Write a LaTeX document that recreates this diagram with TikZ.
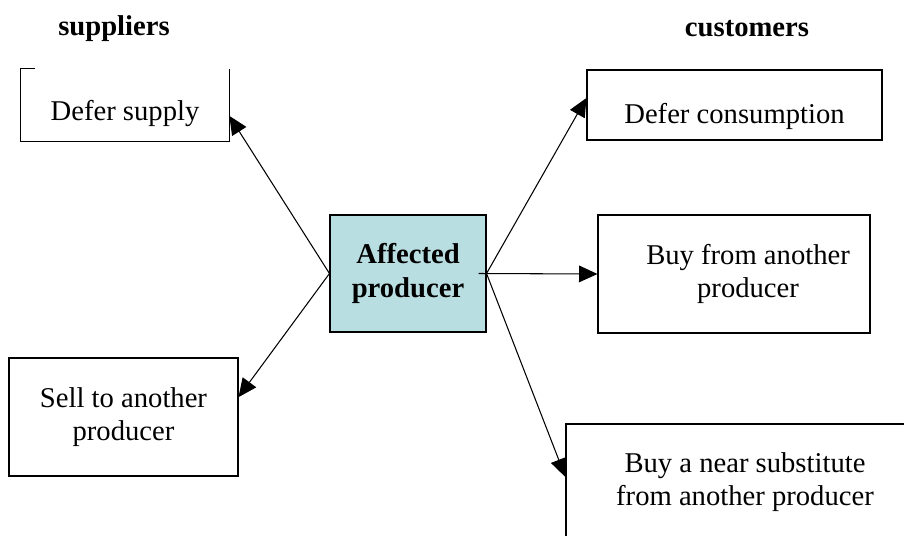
\documentclass[tikz,border=0pt]{standalone}
\usepackage{fontspec}
\setmainfont{Liberation Serif}
\usepackage[dvipsnames]{xcolor}
\usetikzlibrary{arrows, arrows.meta}
\usetikzlibrary{positioning}
\definecolor{prodblue}{RGB}{185,222,226}
\begin{document}
\begin{tikzpicture}[x=0.02cm, y=-0.02cm,
						every node/.style={font=\fontsize{16.3}{19}\selectfont, align=center, inner sep=0pt},
						choice/.style={draw, line width=0.6pt},
						arr/.style={line width=0.6pt, -{Triangle[length=10.5pt, width=9.5pt]}}]
						\useasboundingbox (0,0) rectangle (904,535);
						\clip (0,0) rectangle (904,535);
						% headings
						\node[font=\fontsize{16.3}{19}\selectfont\bfseries] (supliers) at (114,29) {suppliers};
						\node[font=\fontsize{16.3}{19}\selectfont\bfseries] (custs) at (747,29) {customers};
						% the producer
						\node[draw, fill=prodblue, line width=0.6pt, minimum width=156*0.02cm, minimum height=117*0.02cm, font=\fontsize{16.3}{19}\selectfont\bfseries] (prod) at (408,273.5) {Affected\\producer};
						% supplier side
						\node[minimum width=208*0.02cm, minimum height=72*0.02cm] (supply) at (125,105) {\raisebox{-8.8pt}[0pt][0pt]{Defer supply}};
						\draw[line width=0.6pt] ([xshift=0.28cm]supply.north west) -- (supply.north west) -- (supply.south west) -- (supply.south east) -- (supply.north east);
						\node[choice, minimum width=229*0.02cm, minimum height=118*0.02cm] (sellother) at (123.5,417) {Sell to another\\producer};
						% customer side
						\node[choice, minimum width=295*0.02cm, minimum height=70*0.02cm] (consume) at (734.5,105) {\raisebox{-10.8pt}[0pt][0pt]{Defer consumption}};
						\node[choice, minimum width=272*0.02cm, minimum height=118*0.02cm] (buyother) at (734,274) {\hspace{16pt}Buy from another\\\hspace{16pt}producer};
						\node[choice, minimum width=358*0.02cm, minimum height=116*0.02cm] (substitute) at (745,482) {Buy a near substitute\\from another producer};
						% arrows
						\draw[arr] (prod.west) -- ([yshift=-6.2pt]supply.east);
						\draw[arr] (prod.west) -- ([yshift=11.3pt]sellother.east);
						\draw[arr] (prod.east) -- ([yshift=4pt]consume.west);
						\draw[arr] ([xshift=-4.5pt]prod.east) -- (buyother.west);
						\draw[arr] (prod.east) -- ([yshift=2.8pt]substitute.west);
					\end{tikzpicture}
\end{document}
